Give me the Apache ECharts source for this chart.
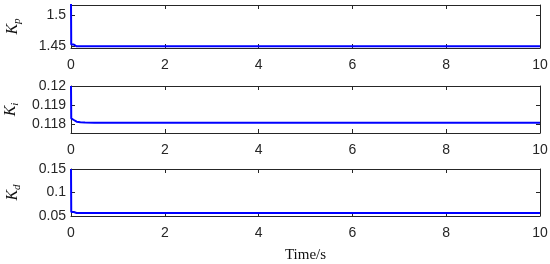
<!DOCTYPE html>
<html>
<head>
<meta charset="utf-8">
<script src="https://cdn.jsdelivr.net/npm/echarts@6/dist/echarts.min.js"></script>
<style>
  html, body { margin: 0; padding: 0; background: #fff; }
  #chart { width: 550px; height: 264px; }
</style>
</head>
<body>
<div id="chart"></div>
<script>
// sample times (s) and the three gain curves
const times = [0, 0.005, 0.03, 0.06, 0.08, 0.12, 0.2, 0.3, 0.5, 1, 2, 4, 6, 8, 10]
const kpData = [1.52, 1.4528, 1.4528, 1.4527, 1.4502, 1.4500, 1.4500, 1.4500, 1.4500, 1.4500, 1.4500, 1.4500, 1.4500, 1.4500, 1.4500]
const kiData = [0.1200, 0.11830, 0.11828, 0.11822, 0.11818, 0.11813, 0.11810, 0.11809, 0.11808, 0.11808, 0.11808, 0.11808, 0.11808, 0.11808, 0.11807]
const kdData = [0.150, 0.0586, 0.0586, 0.0586, 0.0585, 0.0565, 0.0564, 0.0564, 0.0564, 0.0564, 0.0564, 0.0564, 0.0564, 0.0564, 0.0564]

const xTicks = [0, 2, 4, 6, 8, 10]
const kpTicks = [1.45, 1.5]
const kiTicks = [0.118, 0.119, 0.12]
const kdTicks = [0.05, 0.1, 0.15]

const panels = [
  { top: 5, height: 43, min: 1.4472, max: 1.517, ticks: kpTicks, data: kpData, sub: 'p' },
  { top: 86, height: 47, min: 0.11754, max: 0.12, ticks: kiTicks, data: kiData, sub: 'i' },
  { top: 169, height: 47, min: 0.05, max: 0.15, ticks: kdTicks, data: kdData, sub: 'd' }
]

const axisColor = '#262626'
const labelFont = 'Liberation Sans'
const serif = 'Liberation Serif'

const grid = []
const xAxis = []
const yAxis = []
const series = []

panels.forEach((p, i) => {
  grid.push({ left: 71, right: 10, top: p.top, height: p.height, outerBoundsMode: 'none', containLabel: false })

  // bottom x axis with labels
  xAxis.push({
    type: 'value',
    gridIndex: i,
    min: 0,
    max: 10,
    interval: 2,
    position: 'bottom',
    axisLine: { show: true, onZero: false, lineStyle: { color: axisColor, width: 1 } },
    axisTick: { show: true, inside: true, length: 4, customValues: xTicks, lineStyle: { color: axisColor } },
    axisLabel: { show: true, margin: 10, customValues: xTicks, color: axisColor, fontSize: 14, fontFamily: labelFont },
    splitLine: { show: false },
    name: i === 2 ? 'Time/s' : '',
    nameLocation: 'middle',
    nameGap: 32,
    nameTextStyle: { color: '#111', fontSize: 15, fontFamily: serif }
  })
  // top x axis, ticks only (box)
  xAxis.push({
    type: 'value',
    gridIndex: i,
    min: 0,
    max: 10,
    interval: 2,
    position: 'top',
    axisLine: { show: true, onZero: false, lineStyle: { color: axisColor, width: 1 } },
    axisTick: { show: true, inside: true, length: 4, lineStyle: { color: axisColor } },
    axisLabel: { show: false },
    splitLine: { show: false }
  })

  // left y axis with labels
  yAxis.push({
    type: 'value',
    gridIndex: i,
    min: p.min,
    max: p.max,
    position: 'left',
    axisLine: { show: true, onZero: false, lineStyle: { color: axisColor, width: 1 } },
    axisTick: { show: true, inside: true, length: 4, customValues: p.ticks, lineStyle: { color: axisColor } },
    axisLabel: { show: true, margin: 5, customValues: p.ticks, color: axisColor, fontSize: 14, fontFamily: labelFont },
    splitLine: { show: false },
    name: '{k|K}{s|' + p.sub + '}',
    nameLocation: 'middle',
    nameRotate: 90,
    nameGap: 48,
    nameTextStyle: {
      rich: {
        k: { fontFamily: serif, fontStyle: 'italic', fontSize: 16, color: '#111', lineHeight: 20 },
        s: { fontFamily: serif, fontStyle: 'italic', fontSize: 11, color: '#111', lineHeight: 12, verticalAlign: 'bottom' }
      }
    }
  })
  // right y axis, ticks only (box)
  yAxis.push({
    type: 'value',
    gridIndex: i,
    min: p.min,
    max: p.max,
    position: 'right',
    axisLine: { show: true, onZero: false, lineStyle: { color: axisColor, width: 1 } },
    axisTick: { show: true, inside: true, length: 4, customValues: p.ticks, lineStyle: { color: axisColor } },
    axisLabel: { show: false },
    splitLine: { show: false }
  })

  series.push({
    type: 'line',
    xAxisIndex: i * 2,
    yAxisIndex: i * 2,
    data: times.map((t, k) => [t, p.data[k]]),
    showSymbol: false,
    clip: true,
    lineStyle: { color: '#0000ff', width: 2 },
    animation: false
  })
})

const chart = echarts.init(document.getElementById('chart'))
chart.setOption({
  animation: false,
  backgroundColor: '#fff',
  grid,
  xAxis,
  yAxis,
  series
})
</script>
</body>
</html>
